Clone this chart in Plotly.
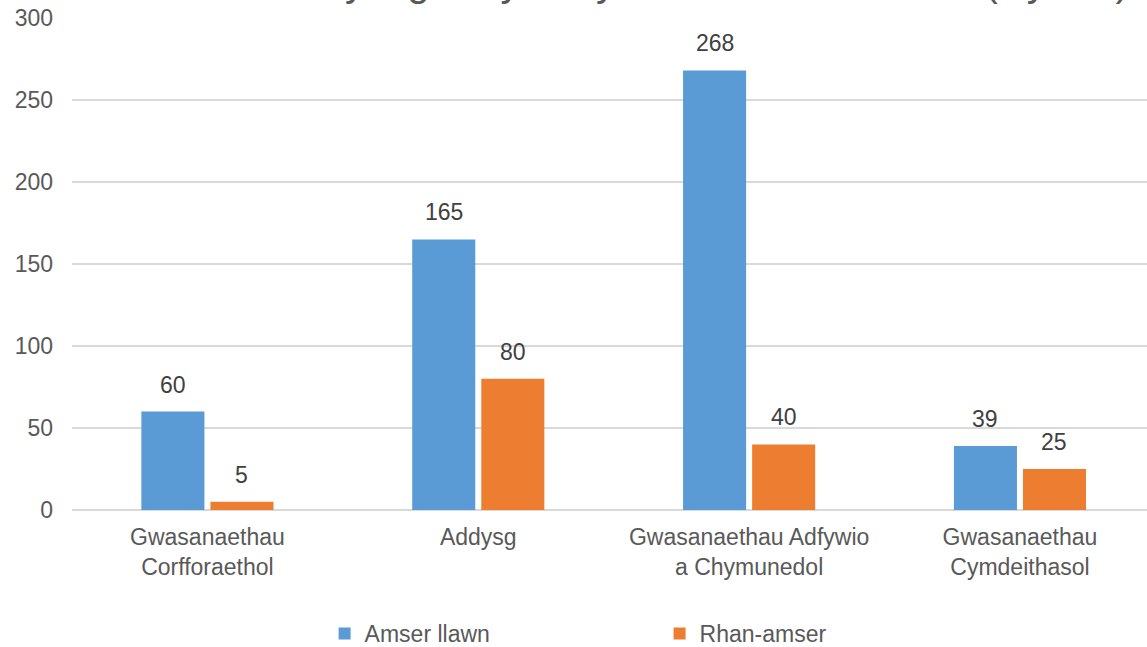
import plotly.graph_objects as go

categories = ["Gwasanaethau<br>Corfforaethol", "Addysg", "Gwasanaethau Adfywio<br>a Chymunedol", "Gwasanaethau<br>Cymdeithasol"]
full_time = [60, 165, 268, 39]
part_time = [5, 80, 40, 25]
series_names = ["Amser llawn", "Rhan-amser"]
colors = ["#5B9BD5", "#ED7D31"]
title_text = "Cyflogai Cyfarwyddiaeth a Math Staff (Hydref)"
y_ticks = [0, 50, 100, 150, 200, 250, 300]

FONT = "Liberation Sans, Arial, sans-serif"

fig = go.Figure()
for name, vals, col in zip(series_names, [full_time, part_time], colors):
    fig.add_trace(go.Bar(
        x=list(range(len(categories))), y=vals, name=name,
        marker=dict(color=col, line=dict(width=0)),
        offsetgroup=name,
    ))

# data labels above bars
annotations = []
for i, vals in enumerate([full_time, part_time]):
    for j, v in enumerate(vals):
        annotations.append(dict(
            x=j, y=v, xref="x", yref="y", text=str(v), showarrow=False,
            xshift=(-1 if i == 0 else 1) * 34.5, yshift=12, yanchor="bottom",
            font=dict(family=FONT, size=23, color="#404040"),
        ))

annotations.append(dict(
    x=0.2255, y=1, xref="paper", yref="paper", xanchor="left", yanchor="bottom",
    yshift=12, text=title_text, showarrow=False,
    font=dict(family=FONT, size=40, color="#595959"),
))

fig.update_layout(
    width=1147, height=647,
    margin=dict(l=71.5, r=0, t=18, b=137, autoexpand=False),
    paper_bgcolor="white", plot_bgcolor="white",
    barmode="group", bargap=0.49, bargroupgap=0.087,
    font=dict(family=FONT, size=23, color="#595959"),
    showlegend=True,
    legend=dict(
        orientation="h", xref="container", yref="container",
        x=0.283, y=0.0541, xanchor="left", yanchor="top",
        entrywidth=290, entrywidthmode="pixels",
        font=dict(family=FONT, size=23, color="#595959"),
        bgcolor="rgba(0,0,0,0)",
    ),
    annotations=annotations,
    xaxis=dict(
        tickmode="array", tickvals=list(range(len(categories))), ticktext=categories,
        range=[-0.5, 3.469], showgrid=False, showline=False, zeroline=False,
        tickfont=dict(family=FONT, size=23, color="#595959"),
        ticklabelstandoff=11, automargin=False,
    ),
    yaxis=dict(
        range=[0, 300], tickvals=y_ticks, showgrid=True, gridcolor="#D9D9D9", gridwidth=1.5,
        zeroline=True, zerolinecolor="#D9D9D9", zerolinewidth=1.5, showline=False,
        tickfont=dict(family=FONT, size=23, color="#595959"),
        ticklabelstandoff=18, automargin=False,
    ),
)

fig.write_html("out.html", config={"displayModeBar": False},
               post_script="document.body.style.margin='0px';")
